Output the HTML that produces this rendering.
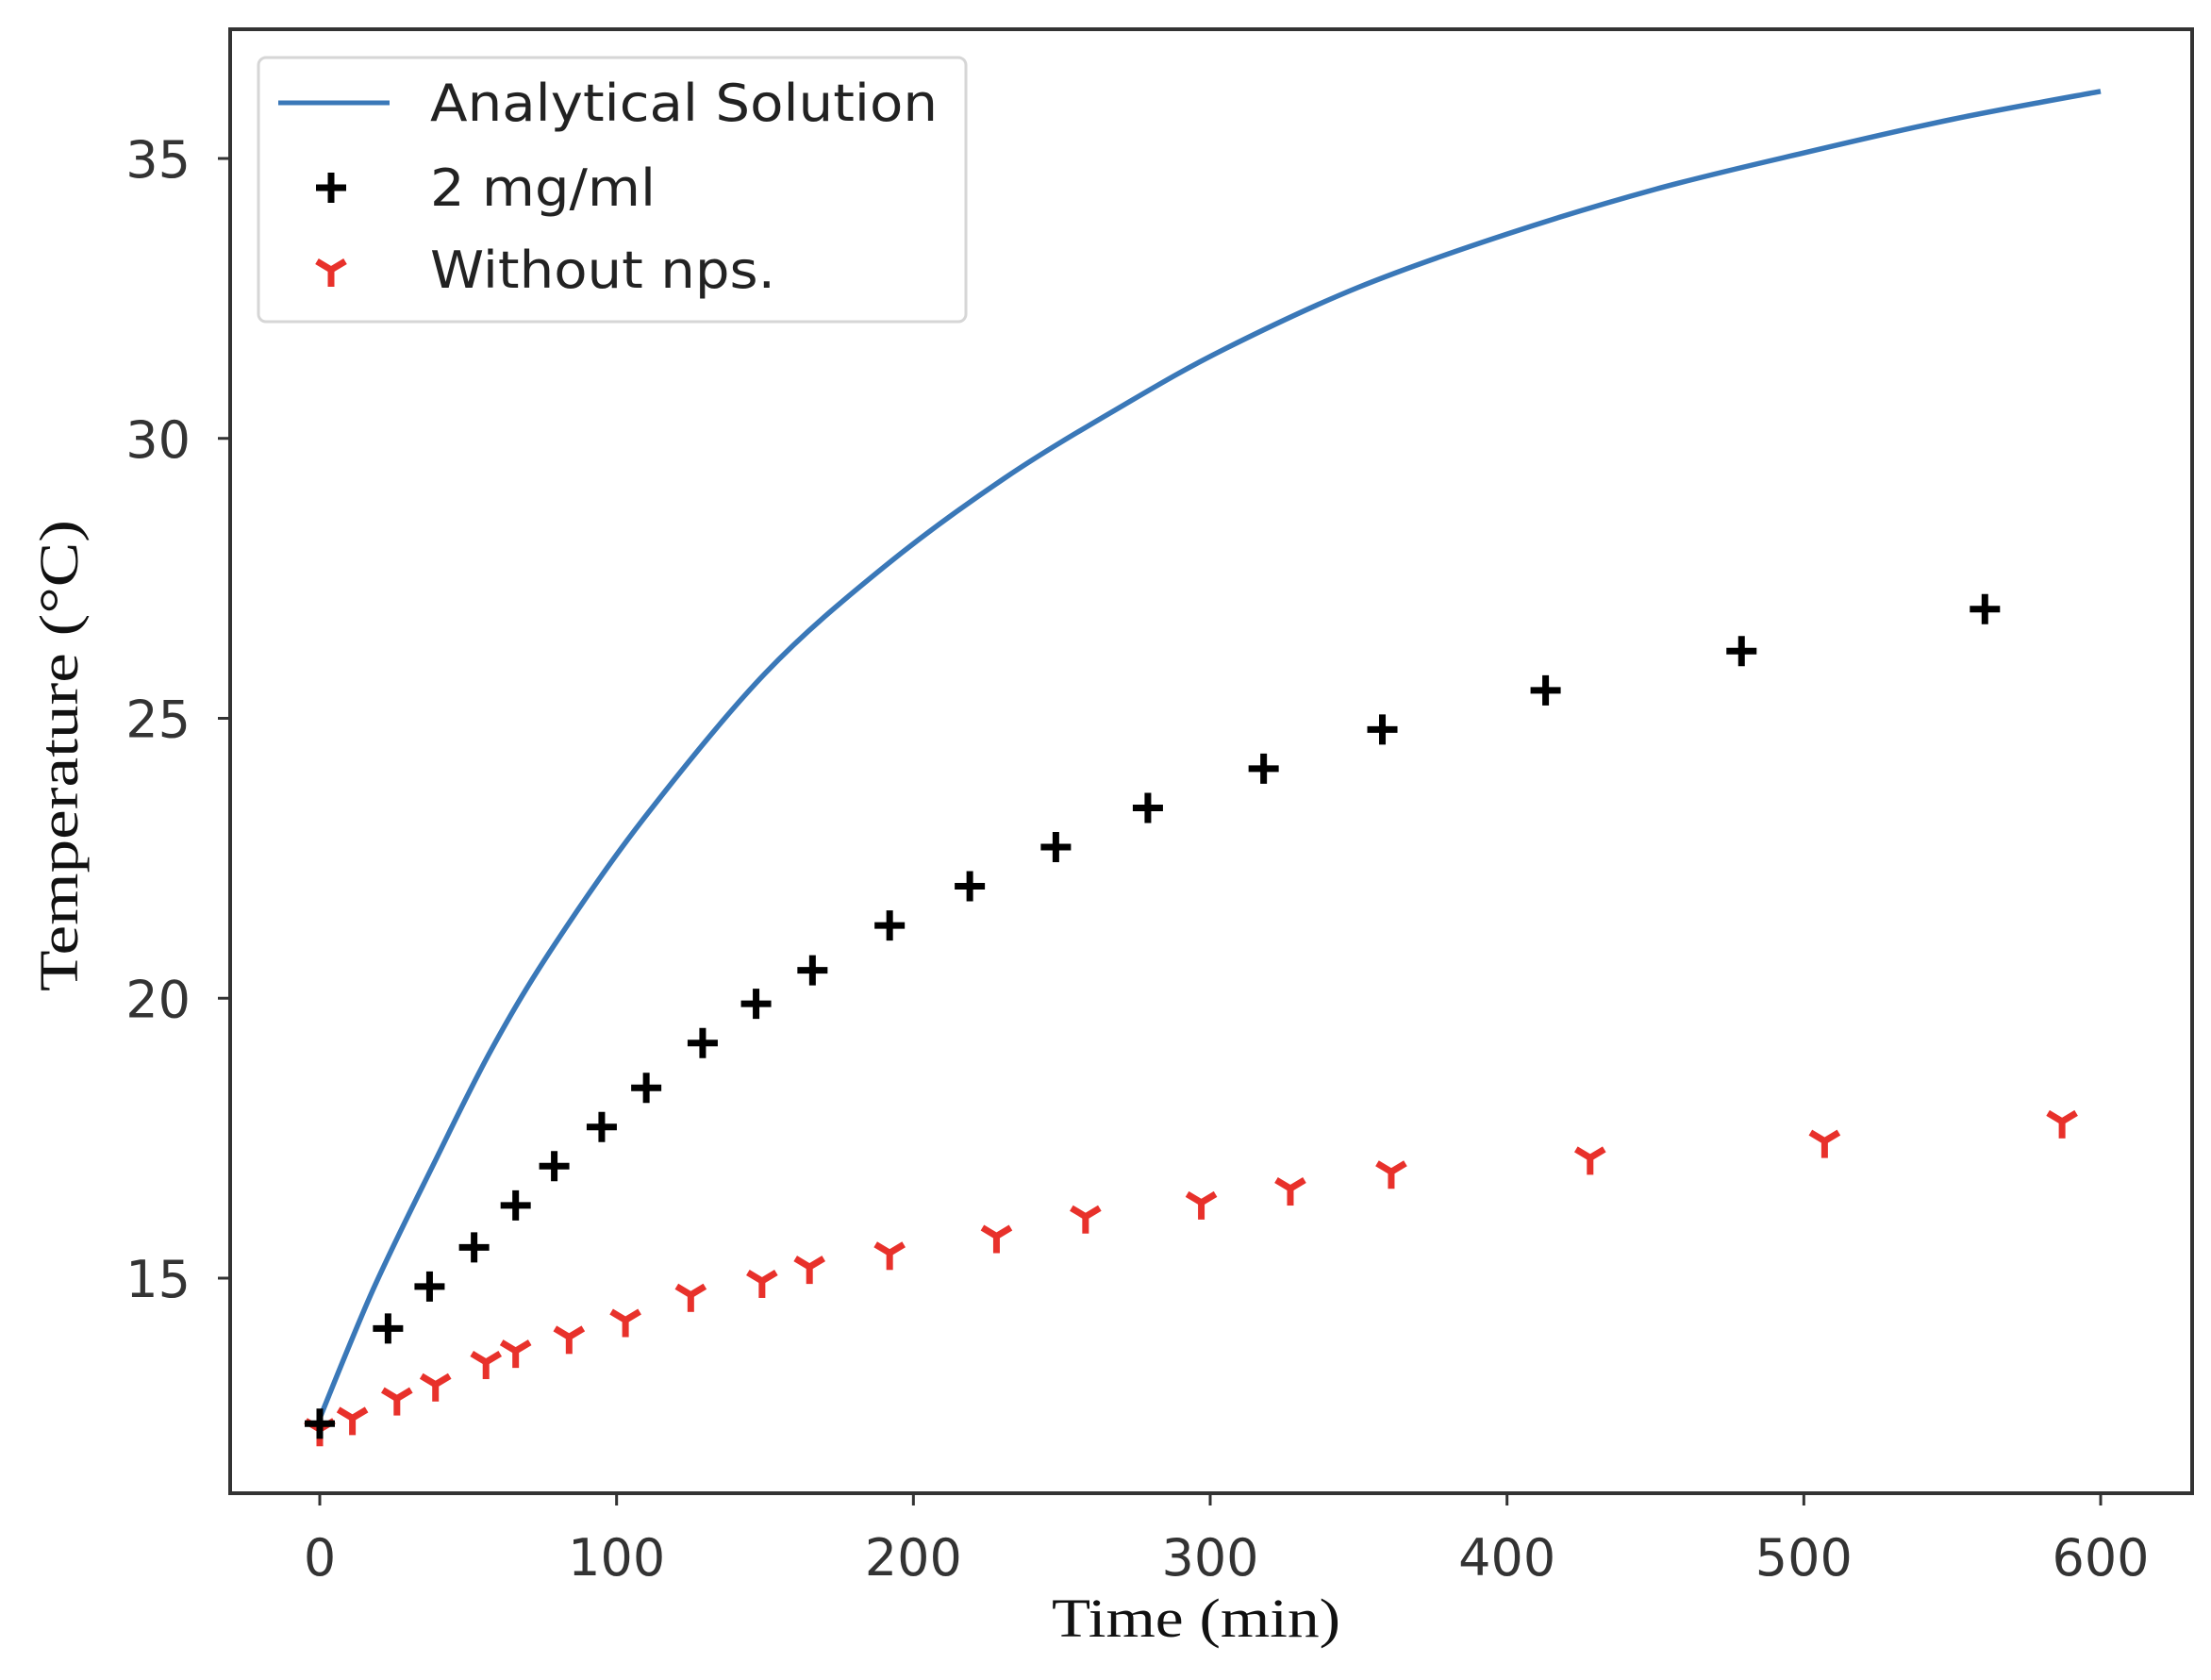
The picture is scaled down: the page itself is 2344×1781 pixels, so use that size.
<!DOCTYPE html>
<html><head><meta charset="utf-8"><style>
html,body{margin:0;padding:0;background:#fff;}
svg{display:block;}
</style></head><body>
<svg id="chart" width="2344" height="1781" viewBox="0 0 2344 1781" xmlns="http://www.w3.org/2000/svg">
<rect x="0" y="0" width="2344" height="1781" fill="#fff"/>
<g id="plot"></g>
<g id="axes"></g>
<g id="legend"></g>
</svg>
<script>
const xTicks = [0, 100, 200, 300, 400, 500, 600];
const yTicks = [15, 20, 25, 30, 35];
const analyticT = [0, 18, 38, 58, 79, 109, 150, 190, 231, 271, 305, 350, 400, 450, 500, 550, 600];
const analyticV = [12.5, 14.8, 17.0, 19.1, 20.95, 23.2, 25.8, 27.7, 29.3, 30.6, 31.6, 32.7, 33.65, 34.45, 35.1, 35.7, 36.2];
const plusT = [0, 23, 37, 52, 66, 79, 95, 110, 129, 147, 166, 192, 219, 248, 279, 318, 358, 413, 479, 561];
const plusV = [12.4, 14.1, 14.85, 15.55, 16.3, 17.0, 17.7, 18.4, 19.2, 19.9, 20.5, 21.3, 22.0, 22.7, 23.4, 24.1, 24.8, 25.5, 26.2, 26.95];
const triT = [0, 11, 26, 39, 56, 66, 84, 103, 125, 149, 165, 192, 228, 258, 297, 327, 361, 428, 507, 587];
const triV = [12.3, 12.5, 12.85, 13.1, 13.5, 13.7, 13.95, 14.25, 14.7, 14.95, 15.2, 15.45, 15.75, 16.1, 16.35, 16.6, 16.9, 17.15, 17.45, 17.8];

const NS = 'http://www.w3.org/2000/svg';
const L = 244, R = 2324, T = 31, B = 1583;
function xs(v){ return 339 + v * 3.1467; }
function ys(v){ return 168 + (35 - v) * 59.35; }
function mk(tag, attrs, parent){ const e = document.createElementNS(NS, tag); for (const k in attrs) e.setAttribute(k, attrs[k]); parent.appendChild(e); return e; }
const plot = document.getElementById('plot');
const axes = document.getElementById('axes');
const legend = document.getElementById('legend');

const pts = analyticT.map((t,i)=>[xs(t), ys(analyticV[i])]);
let d = 'M' + pts[0][0].toFixed(1) + ',' + pts[0][1].toFixed(1);
for (let i = 0; i < pts.length - 1; i++) {
  const p0 = pts[Math.max(0, i-1)], p1 = pts[i], p2 = pts[i+1], p3 = pts[Math.min(pts.length-1, i+2)];
  const c1 = [p1[0] + (p2[0]-p0[0])/6, p1[1] + (p2[1]-p0[1])/6];
  const c2 = [p2[0] - (p3[0]-p1[0])/6, p2[1] - (p3[1]-p1[1])/6];
  d += ' C' + c1[0].toFixed(1) + ',' + c1[1].toFixed(1) + ' ' + c2[0].toFixed(1) + ',' + c2[1].toFixed(1) + ' ' + p2[0].toFixed(1) + ',' + p2[1].toFixed(1);
}
const line = mk('path', {d:d, fill:'none', stroke:'#3a78b8', 'stroke-width':5.5, 'stroke-linejoin':'round'}, plot);



function plus(cx, cy, parent, color){
  const g = mk('g', {stroke:color, 'stroke-width':7, fill:'none'}, parent);
  mk('line', {x1:cx-16, y1:cy, x2:cx+16, y2:cy}, g);
  mk('line', {x1:cx, y1:cy-16, x2:cx, y2:cy+16}, g);
  return g;
}
function tri(cx, cy, parent, color){
  const g = mk('g', {stroke:color, 'stroke-width':7, fill:'none'}, parent);
  mk('line', {x1:cx, y1:cy, x2:cx, y2:cy+18}, g);
  mk('line', {x1:cx, y1:cy, x2:cx-15, y2:cy-9}, g);
  mk('line', {x1:cx, y1:cy, x2:cx+15, y2:cy-9}, g);
  return g;
}
triT.forEach((t,i)=>{
  const g = tri(xs(t), ys(triV[i]), plot, '#e8312b');
  
  
});
plusT.forEach((t,i)=>{
  const g = plus(xs(t), ys(plusV[i]), plot, '#000');
  
  
});

const frame = mk('rect', {x:L, y:T, width:R-L, height:B-T, fill:'none', stroke:'#333', 'stroke-width':4}, axes);



xTicks.forEach(v=>{
  const x = xs(v);
  const tk = mk('line', {x1:x, y1:B, x2:x, y2:B+13, stroke:'#333', 'stroke-width':3}, axes);
  
  
  const tx = mk('text', {x:x, y:1670, 'text-anchor':'middle', 'font-family':'DejaVu Sans, Liberation Sans, sans-serif', 'font-size':54, fill:'#333'}, axes);
  tx.textContent = v;
  
  
});
yTicks.forEach(v=>{
  const y = ys(v);
  const tk = mk('line', {x1:L-13, y1:y, x2:L, y2:y, stroke:'#333', 'stroke-width':3}, axes);
  
  
  const tx = mk('text', {x:202, y:y+20, 'text-anchor':'end', 'font-family':'DejaVu Sans, Liberation Sans, sans-serif', 'font-size':54, fill:'#333'}, axes);
  tx.textContent = v;
  
  
});
const xl = mk('text', {x:1268, y:1735, 'text-anchor':'middle', 'font-family':'Liberation Serif, serif', 'font-size':58, fill:'#111', textLength:306, lengthAdjust:'spacingAndGlyphs'}, axes);
xl.textContent = 'Time (min)';


const yl = mk('text', {x:0, y:0, 'text-anchor':'middle', 'font-family':'Liberation Serif, serif', 'font-size':58, fill:'#111', transform:'translate(82,801) rotate(-90)', textLength:500, lengthAdjust:'spacingAndGlyphs'}, axes);
yl.textContent = 'Temperature (°C)';



const box = mk('rect', {x:274, y:61, width:750, height:280, rx:8, fill:'#fff', stroke:'#d6d6d6', 'stroke-width':3}, legend);


const items = [
  {name:'legend-entry-analytical', label:'Analytical Solution', y:109, w:538},
  {name:'legend-entry-2mg', label:'2 mg/ml', y:199, w:239},
  {name:'legend-entry-without-nps', label:'Without nps.', y:286, w:366}
];
items.forEach((it, i)=>{
  const g = mk('g', {}, legend);
  
  
  if (i === 0) mk('line', {x1:295, y1:it.y, x2:413, y2:it.y, stroke:'#3a78b8', 'stroke-width':5}, g);
  else if (i === 1) plus(351, it.y, g, '#000');
  else tri(351, it.y, g, '#e8312b');
  const t = mk('text', {x:456, y:it.y+19, 'font-family':'DejaVu Sans, Liberation Sans, sans-serif', 'font-size':54, fill:'#222', textLength:it.w, lengthAdjust:'spacingAndGlyphs'}, g);
  t.textContent = it.label;
});
</script>
</body></html>
